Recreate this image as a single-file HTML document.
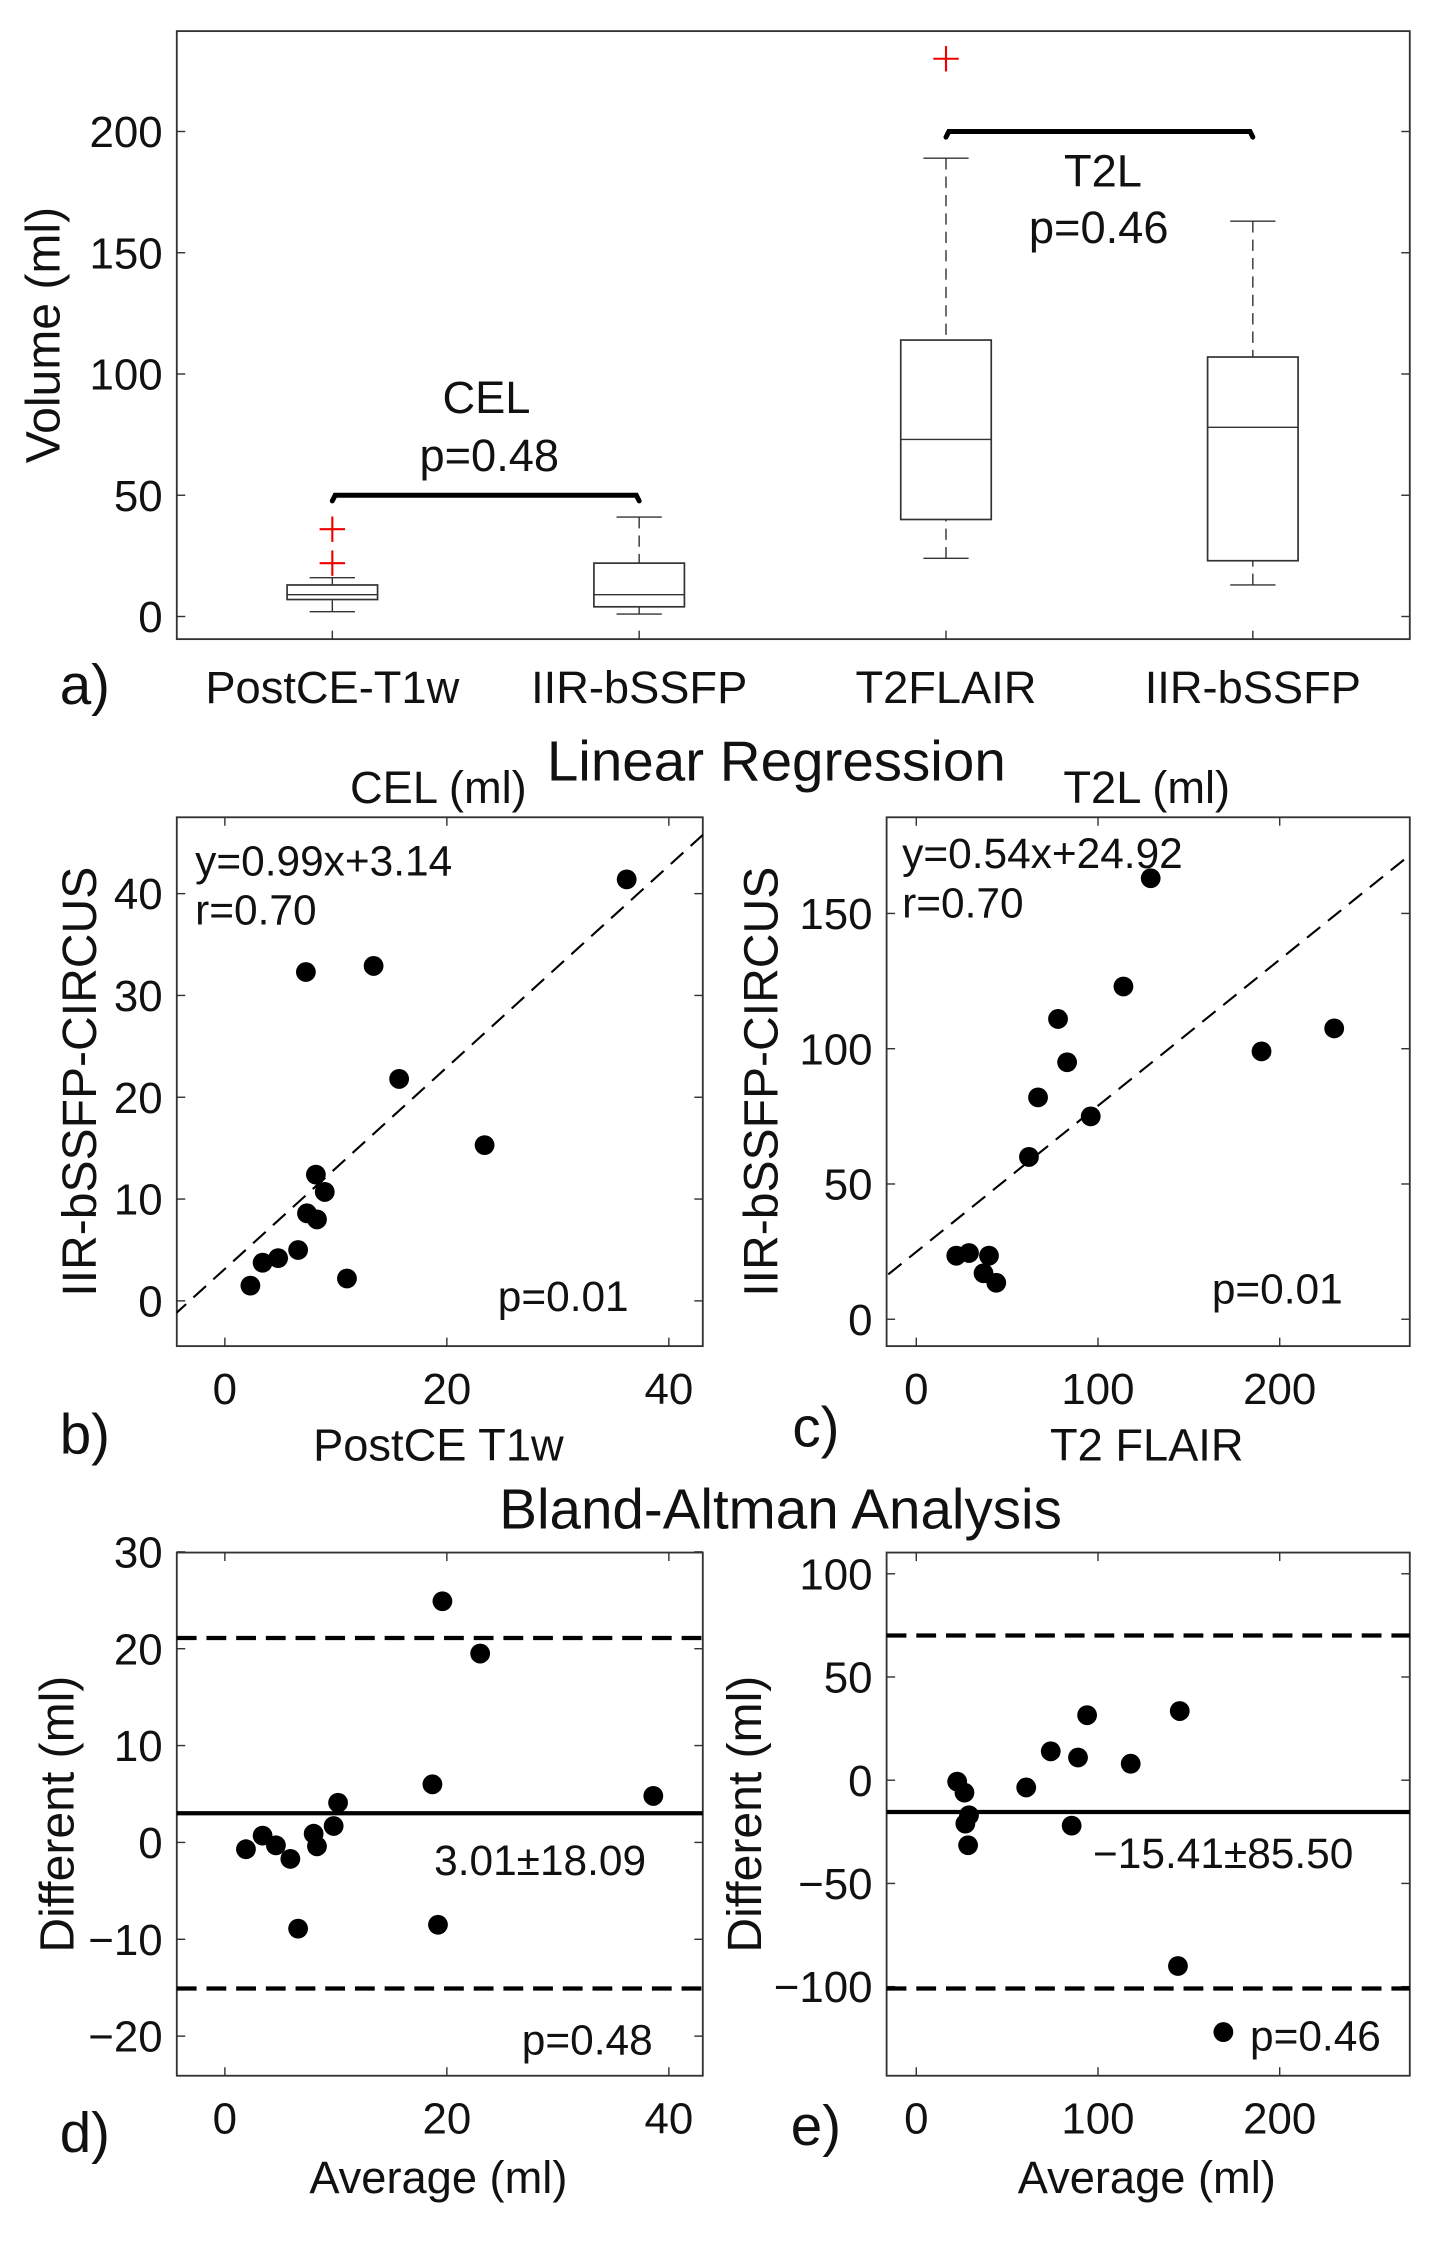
<!DOCTYPE html>
<html><head><meta charset="utf-8">
<style>
html,body{margin:0;padding:0;background:#fff;}
svg{display:block;font-family:"Liberation Sans",Arial,sans-serif;}
</style></head>
<body>
<svg id="fig" xmlns="http://www.w3.org/2000/svg" width="1448" height="2244" viewBox="0 0 1024 1587">
<rect width="1024" height="1587" fill="#fff"/>
</svg>
<script>
// ---- Panel a data ----
const boxCategories = ["PostCE-T1w","IIR-bSSFP","T2FLAIR","IIR-bSSFP"];
const boxLow = [2,1,24,13];
const boxQ1 = [7,4,40,23];
const boxMedian = [9,9,73,78];
const boxQ3 = [13,22,114,107];
const boxHigh = [16,41,189,163];
const boxOutliers = [[22,36],[],[230],[]];
const volTicks = [0,50,100,150,200];
// ---- Panel b data ----
const celX = [2.3,3.4,4.8,6.6,7.3,7.4,8.3,8.2,9,11,13.4,15.7,23.4,36.2];
const celY = [1.5,3.75,4.2,5,32.3,8.6,8,12.4,10.7,2.2,32.9,21.8,15.3,41.4];
const celFit = [0.99,3.14];
const bXTicks = [0,20,40];
const bYTicks = [0,10,20,30,40];
// ---- Panel c data ----
const t2X = [22,29,40,37,44,62,67,78,83,96,114,129,190,230];
const t2Y = [23.5,24.5,23.5,17,13.5,60,82,111,95,75,123,163,99,107.5];
const t2Fit = [0.54,24.92];
const cXTicks = [0,100,200];
const cYTicks = [0,50,100,150];
// ---- Panel d data ----
const celAvg = [1.9,3.4,4.6,5.9,6.6,8,8.3,9.8,10.2,18.7,19.2,19.6,23,38.6];
const celDiff = [-0.7,0.7,-0.3,-1.7,-8.9,0.9,-0.4,1.7,4.1,6,-8.5,24.9,19.5,4.8];
const celMeanSd = [3.01,18.09];
const dYTicks = [-20,-10,0,10,20,30];
// ---- Panel e data ----
const t2Avg = [22.5,26.5,27,29,28.5,60.5,74,85.5,89,94,118,145,144,169];
const t2Diff = [-0.7,-6,-21,-17,-31.5,-3.5,14,-22,11,31.5,8,33.5,-90,-122];
const t2MeanSd = [-15.41,85.50];
const eYTicks = [-100,-50,0,50,100];

const NS="http://www.w3.org/2000/svg";
const svg=document.getElementById('fig');
const TF=31, LF=34, AF=30, HF=40, PF=40;
function el(tag,attrs,parent){const e=document.createElementNS(NS,tag);for(const k in attrs)e.setAttribute(k,attrs[k]);(parent||svg).appendChild(e);return e;}
function txt(s,x,y,size,anchor,parent,rot){const t=el('text',{x:x,y:y,'font-size':size,'text-anchor':anchor||'middle',fill:'#111'},parent);if(rot)t.setAttribute('transform','rotate(-90 '+x+' '+y+')');t.textContent=s;return t;}
function scale(d0,d1,p0,p1){return v=>p0+(v-d0)*(p1-p0)/(d1-d0);}

function axesBox(g,x0,y0,x1,y1){
  const r=el('rect',{x:x0,y:y0,width:x1-x0,height:y1-y0,fill:'none',stroke:'#333','stroke-width':1.3},g);
  
  
}
function yTicks(g,ticks,sy,x0,x1,fs){ticks.forEach(t=>{const y=sy(t);el('line',{x1:x0,y1:y,x2:x0+6,y2:y,stroke:'#333'},g);el('line',{x1:x1,y1:y,x2:x1-6,y2:y,stroke:'#333'},g);const l=txt(String(t).replace('-','−'),x0-10,y+11,fs,'end',g);});}
function xTicks(g,ticks,sx,y0,y1,fs){ticks.forEach(t=>{const x=sx(t);el('line',{x1:x,y1:y1,x2:x,y2:y1-6,stroke:'#333'},g);el('line',{x1:x,y1:y0,x2:x,y2:y0+6,stroke:'#333'},g);const l=txt(String(t),x,y1+41,fs,'middle',g);});}
function dots(g,xs,ys,sx,sy){xs.forEach((v,i)=>{const c=el('circle',{cx:sx(v),cy:sy(ys[i]),r:7,fill:'#000'},g);});}

// ===== Panel a =====
const ga=el('g',{});
const ay=scale(0,200,436,93);
axesBox(ga,125,22,997,452);
yTicks(ga,volTicks,ay,125,997,TF);
const catX=[235,452,669,886];
boxCategories.forEach((c,i)=>{
  const x=catX[i];
  el('line',{x1:x,y1:ay(boxHigh[i]),x2:x,y2:ay(boxQ3[i]),stroke:'#333','stroke-dasharray':'8,5'},ga);
  el('line',{x1:x,y1:ay(boxLow[i]),x2:x,y2:ay(boxQ1[i]),stroke:'#333','stroke-dasharray':'8,5'},ga);
  el('line',{x1:x-16,y1:ay(boxHigh[i]),x2:x+16,y2:ay(boxHigh[i]),stroke:'#333'},ga);
  el('line',{x1:x-16,y1:ay(boxLow[i]),x2:x+16,y2:ay(boxLow[i]),stroke:'#333'},ga);
  const b=el('rect',{x:x-32,y:ay(boxQ3[i]),width:64,height:ay(boxQ1[i])-ay(boxQ3[i]),fill:'none',stroke:'#333','stroke-width':1.2},ga);
  
  
  el('line',{x1:x-32,y1:ay(boxMedian[i]),x2:x+32,y2:ay(boxMedian[i]),stroke:'#333'},ga);
  boxOutliers[i].forEach(o=>{const y=ay(o);el('line',{x1:x-9,y1:y,x2:x+9,y2:y,stroke:'#e00','stroke-width':1.5},ga);el('line',{x1:x,y1:y-9,x2:x,y2:y+9,stroke:'#e00','stroke-width':1.5},ga);});
  const l=txt(c,x,497,LF-2,'middle',ga);
  el('line',{x1:x,y1:452,x2:x,y2:446,stroke:'#333'},ga);
});
el('path',{d:`M235 ${ay(50)+4} L237 ${ay(50)} L450 ${ay(50)} L452 ${ay(50)+4}`,fill:'none',stroke:'#000','stroke-width':3.5,'stroke-linecap':'round'},ga);
el('path',{d:`M669 ${ay(200)+4} L671 ${ay(200)} L884 ${ay(200)} L886 ${ay(200)+4}`,fill:'none',stroke:'#000','stroke-width':3.5,'stroke-linecap':'round'},ga);
txt('CEL',344,292,LF-2,'middle',ga);txt('p=0.48',346,333,LF-2,'middle',ga);
txt('T2L',780,132,LF-2,'middle',ga);txt('p=0.46',777,172,LF-2,'middle',ga);
txt('Volume (ml)',42,237,LF,'middle',ga,true);
txt('a)',60,498,PF,'middle',ga);

// ===== Panel b =====
const gb=el('g',{});
const bx=scale(0,40,159,473), by=scale(0,40,920,632);
const cb=el('clipPath',{id:'cb'},gb);el('rect',{x:125,y:578,width:372,height:374},cb);
axesBox(gb,125,578,497,952);
xTicks(gb,bXTicks,bx,578,952,TF);yTicks(gb,bYTicks,by,125,497,TF);
el('line',{x1:bx(-10),y1:by(celFit[0]*-10+celFit[1]),x2:bx(50),y2:by(celFit[0]*50+celFit[1]),stroke:'#000','stroke-width':1.5,'stroke-dasharray':'12,7','clip-path':'url(#cb)'},gb);
dots(gb,celX,celY,bx,by);
txt('y=0.99x+3.14',138,619,AF,'start',gb);txt('r=0.70',138,654,AF,'start',gb);txt('p=0.01',352,927,AF,'start',gb);
txt('CEL (ml)',310,568,LF-2,'middle',gb);
txt('IIR-bSSFP-CIRCUS',68,765,LF,'middle',gb,true);
txt('PostCE T1w',310,1033,LF-2,'middle',gb);txt('b)',60,1028,PF,'middle',gb);
txt('Linear Regression',549,552,HF,'middle');

// ===== Panel c =====
const gc=el('g',{});
const cx=scale(0,200,648,905), cy=scale(0,150,933,646);
const cc=el('clipPath',{id:'cc'},gc);el('rect',{x:627,y:578,width:370,height:374},cc);
axesBox(gc,627,578,997,952);
xTicks(gc,cXTicks,cx,578,952,TF);yTicks(gc,cYTicks,cy,627,997,TF);
el('line',{x1:cx(-50),y1:cy(t2Fit[0]*-50+t2Fit[1]),x2:cx(300),y2:cy(t2Fit[0]*300+t2Fit[1]),stroke:'#000','stroke-width':1.5,'stroke-dasharray':'12,7','clip-path':'url(#cc)'},gc);
dots(gc,t2X,t2Y,cx,cy);
txt('y=0.54x+24.92',638,614,AF,'start',gc);txt('r=0.70',638,649,AF,'start',gc);txt('p=0.01',857,922,AF,'start',gc);
txt('T2L (ml)',811,568,LF-2,'middle',gc);
txt('IIR-bSSFP-CIRCUS',550,765,LF,'middle',gc,true);
txt('T2 FLAIR',811,1033,LF-2,'middle',gc);txt('c)',577,1023,PF,'middle',gc);

// ===== Panel d =====
const gd=el('g',{});
const dx=bx, dy=scale(0,20,1303,1166);
axesBox(gd,125,1098,497,1468);
xTicks(gd,bXTicks,dx,1098,1468,TF);yTicks(gd,dYTicks,dy,125,497,TF);
el('line',{x1:125,y1:dy(celMeanSd[0]),x2:497,y2:dy(celMeanSd[0]),stroke:'#000','stroke-width':3},gd);
[1,-1].forEach(s=>el('line',{x1:125,y1:dy(celMeanSd[0]+s*celMeanSd[1]),x2:497,y2:dy(celMeanSd[0]+s*celMeanSd[1]),stroke:'#000','stroke-width':3,'stroke-dasharray':'14,7'},gd));
dots(gd,celAvg,celDiff,dx,dy);
txt('3.01±18.09',307,1326,AF,'start',gd);txt('p=0.48',369,1453,AF,'start',gd);
txt('Different (ml)',52,1283,LF,'middle',gd,true);
txt('Average (ml)',310,1551,LF-2,'middle',gd);txt('d)',60,1522,PF,'middle',gd);
txt('Bland-Altman Analysis',552,1081,HF,'middle');

// ===== Panel e =====
const ge=el('g',{});
const ex=cx, ey=scale(0,-100,1259,1405);
axesBox(ge,627,1098,997,1468);
xTicks(ge,cXTicks,ex,1098,1468,TF);yTicks(ge,eYTicks,ey,627,997,TF);
el('line',{x1:627,y1:ey(t2MeanSd[0]),x2:997,y2:ey(t2MeanSd[0]),stroke:'#000','stroke-width':3},ge);
[1,-1].forEach(s=>el('line',{x1:627,y1:ey(t2MeanSd[0]+s*t2MeanSd[1]),x2:997,y2:ey(t2MeanSd[0]+s*t2MeanSd[1]),stroke:'#000','stroke-width':3,'stroke-dasharray':'14,7'},ge));
dots(ge,t2Avg,t2Diff,ex,ey);
txt('−15.41±85.50',773,1321,AF,'start',ge);txt('p=0.46',884,1450,AF,'start',ge);
txt('Different (ml)',538,1283,LF,'middle',ge,true);
txt('Average (ml)',811,1551,LF-2,'middle',ge);txt('e)',577,1517,PF,'middle',ge);
</script>
</body></html>
